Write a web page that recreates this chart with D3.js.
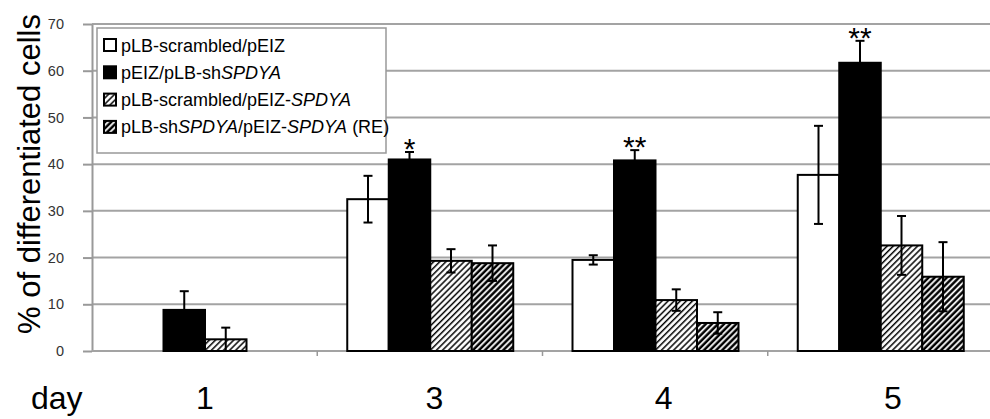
<!DOCTYPE html>
<html>
<head>
<meta charset="utf-8">
<script src="https://cdn.jsdelivr.net/npm/d3@7"></script>
<style>
  html, body { margin: 0; padding: 0; background: #fff; }
  svg { display: block; font-family: "Liberation Sans", Arial, sans-serif; }
</style>
</head>
<body>
<svg id="chart" width="990" height="419"></svg>
<script>
// Days on the x axis
const days = ["1", "3", "4", "5"];
// Series keys, in bar order within each day
const seriesKeys = ["scr_pEIZ", "pEIZ_sh", "scr_SPDYA", "sh_SPDYA_RE"];
// Mean % of differentiated cells per series (null = no bar)
const meanScrPEIZ   = [null, 32.5, 19.5, 37.7];
const meanPEIZSh    = [8.8, 41.0, 40.8, 61.7];
const meanScrSPDYA  = [2.5, 19.3, 10.9, 22.6];
const meanShSPDYARE = [null, 18.8, 6.0, 15.9];
// Error (± half-range) per series
const errScrPEIZ   = [null, 5.0, 1.0, 10.5];
const errPEIZSh    = [4.0, 1.6, 2.2, 4.7];
const errScrSPDYA  = [2.5, 2.5, 2.3, 6.3];
const errShSPDYARE = [null, 3.8, 2.3, 7.4];
// Significance marks over the shSPDYA bars
const sigMarks = ["", "*", "**", "**"];
// Y axis ticks
const yTicks = [0, 10, 20, 30, 40, 50, 60, 70];

const means = [meanScrPEIZ, meanPEIZSh, meanScrSPDYA, meanShSPDYARE];
const errs = [errScrPEIZ, errPEIZSh, errScrSPDYA, errShSPDYARE];
const fills = ["#fff", "#000", "url(#hatchLight)", "url(#hatchDark)"];

const svg = d3.select("#chart");

// Hatch patterns
const defs = svg.append("defs");
function hatch(id, w) {
  const p = defs.append("pattern")
    .attr("id", id)
    .attr("patternUnits", "userSpaceOnUse")
    .attr("width", 4.3).attr("height", 4.3)
    .attr("patternTransform", "rotate(45)");
  p.append("rect").attr("width", 4.3).attr("height", 4.3).attr("fill", "#fff");
  p.append("line").attr("x1", 1.5).attr("x2", 1.5).attr("y1", 0).attr("y2", 4.3)
    .attr("stroke", "#000").attr("stroke-width", w);
}
hatch("hatchLight", 1.5);
hatch("hatchDark", 2.5);

const x = d3.scaleBand().domain(days).range([92, 993]);
const xs = d3.scaleBand().domain(seriesKeys).range([30, 196]);
const xLabel = d3.scalePoint().domain(days).range([205, 893]);
const y = d3.scaleLinear().domain([0, 70]).range([351, 24]);

// Gridlines
svg.append("g").selectAll("line").data(yTicks.filter(t => t > 0)).join("line")
  .attr("x1", 92).attr("x2", 990)
  .attr("y1", d => y(d)).attr("y2", d => y(d))
  .attr("stroke", "#a3a3a3").attr("stroke-width", 2);

// Y axis
const yAxis = svg.append("g").attr("transform", "translate(92,0)")
  .call(d3.axisLeft(y).tickValues(yTicks).tickSize(9).tickPadding(19).tickSizeOuter(0));
yAxis.select(".domain").attr("stroke", "#999").attr("stroke-width", 2);
yAxis.selectAll(".tick line").attr("stroke", "#999").attr("stroke-width", 2);
yAxis.selectAll(".tick text").attr("font-size", 14.5).attr("fill", "#333")
  .attr("font-family", "Liberation Sans, Arial, sans-serif");

// X baseline and category boundary ticks
svg.append("line").attr("x1", 92).attr("x2", 990).attr("y1", y(0)).attr("y2", y(0))
  .attr("stroke", "#a3a3a3").attr("stroke-width", 2);
svg.append("g").selectAll("line").data(days.slice(1)).join("line")
  .attr("x1", d => x(d)).attr("x2", d => x(d))
  .attr("y1", y(0)).attr("y2", y(0) + 5)
  .attr("stroke", "#999").attr("stroke-width", 1.5);

// Bars
const bars = [];
days.forEach((d, i) => {
  seriesKeys.forEach((k, j) => {
    if (means[j][i] != null) bars.push({ day: d, key: k, j, v: means[j][i], e: errs[j][i] });
  });
});
const barG = svg.append("g");
barG.selectAll("rect").data(bars).join("rect")
  .attr("x", d => x(d.day) + xs(d.key))
  .attr("width", xs.bandwidth())
  .attr("y", d => y(d.v))
  .attr("height", d => y(0) - y(d.v))
  .attr("fill", d => fills[d.j])
  .attr("stroke", "#000").attr("stroke-width", 2);

// Error bars
const errG = svg.append("g").attr("stroke", "#000").attr("stroke-width", 2);
bars.forEach(d => {
  const cx = x(d.day) + xs(d.key) + xs.bandwidth() / 2;
  errG.append("line").attr("x1", cx).attr("x2", cx).attr("y1", y(d.v - d.e)).attr("y2", y(d.v + d.e));
  errG.append("line").attr("x1", cx - 4.5).attr("x2", cx + 4.5).attr("y1", y(d.v + d.e)).attr("y2", y(d.v + d.e));
  errG.append("line").attr("x1", cx - 4.5).attr("x2", cx + 4.5).attr("y1", y(d.v - d.e)).attr("y2", y(d.v - d.e));
});

// Significance marks
svg.append("g").selectAll("text").data(days.map((d, i) => ({ d, i })).filter(o => sigMarks[o.i]))
  .join("text")
  .attr("x", o => x(o.d) + xs("pEIZ_sh") + xs.bandwidth() / 2)
  .attr("y", o => y(meanPEIZSh[o.i] + errPEIZSh[o.i]) + 7)
  .attr("text-anchor", "middle").attr("font-size", 30).attr("fill", "#000")
  .text(o => sigMarks[o.i]);

// X category labels
svg.append("g").selectAll("text").data(days).join("text")
  .attr("x", d => xLabel(d))
  .attr("y", 409)
  .attr("text-anchor", "middle").attr("font-size", 32).attr("fill", "#000")
  .text(d => d);
svg.append("text").attr("x", 31).attr("y", 409).attr("font-size", 32).attr("fill", "#000").text("day");

// Y axis title
svg.append("text").attr("transform", "translate(40,174) rotate(-90)")
  .attr("text-anchor", "middle").attr("font-size", 31).attr("fill", "#000")
  .text("% of differentiated cells");

// Legend
const leg = svg.append("g");
leg.append("rect").attr("x", 97).attr("y", 28).attr("width", 289).attr("height", 125)
  .attr("fill", "#fff").attr("stroke", "#999").attr("stroke-width", 1.5);
const legendItems = [
  [["pLB-scrambled/pEIZ", false]],
  [["pEIZ/pLB-sh", false], ["SPDYA", true]],
  [["pLB-scrambled/pEIZ-", false], ["SPDYA", true]],
  [["pLB-sh", false], ["SPDYA", true], ["/pEIZ-", false], ["SPDYA", true], [" (RE)", false]]
];
legendItems.forEach((parts, j) => {
  const cy = 45 + j * 27.3;
  leg.append("rect").attr("x", 104).attr("y", cy - 6).attr("width", 12).attr("height", 12)
    .attr("fill", fills[j]).attr("stroke", "#000").attr("stroke-width", 2);
  const t = leg.append("text").attr("x", 121).attr("y", cy + 6.5).attr("font-size", 18).attr("fill", "#000");
  parts.forEach(([s, it]) => t.append("tspan").attr("font-style", it ? "italic" : null).text(s));
});
</script>
</body>
</html>
